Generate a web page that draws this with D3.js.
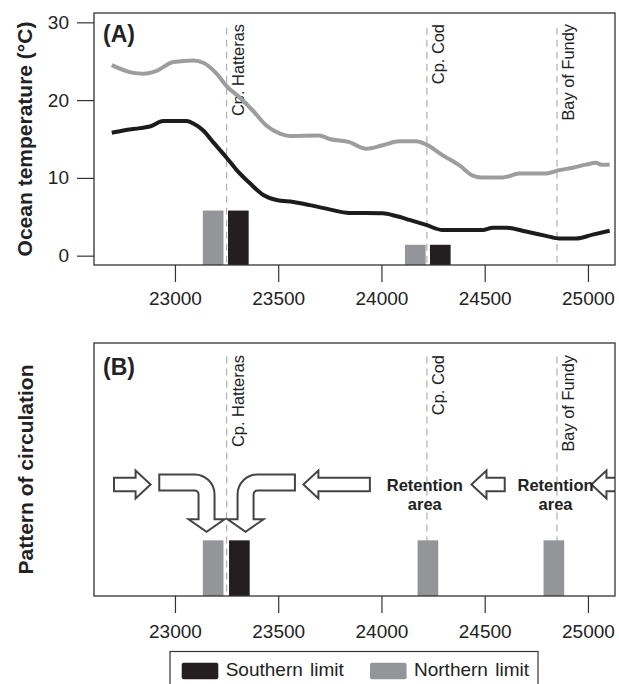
<!DOCTYPE html>
<html>
<head>
<meta charset="utf-8">
<script src="https://cdn.jsdelivr.net/npm/d3@7"></script>
<style>
  body { margin: 0; background: #fff; }
  text { font-family: "Liberation Sans", Arial, sans-serif; fill: #222; }
</style>
</head>
<body>
<svg id="chart" width="619" height="684"></svg>
<script>
// distance along the coast (km) and temperatures
const warmDist = [22694, 22798, 22847, 22911, 22992, 23089, 23137, 23202, 23250, 23315, 23379, 23444, 23508, 23557, 23700,
                  23748, 23845, 23926, 24006, 24087, 24168, 24216, 24297, 24378, 24442, 24483, 24587, 24668, 24797, 24861,
                  24926, 24990, 25039, 25065, 25105];
const warmTemp = [24.5, 23.5, 23.4, 23.75, 24.9, 25.1, 24.8, 23.4, 21.8, 20.3, 18.6, 16.7, 15.7, 15.4, 15.45,
                  15.0, 14.6, 13.75, 14.2, 14.7, 14.7, 14.3, 12.9, 11.6, 10.3, 10.05, 10.05, 10.55, 10.55, 11.0,
                  11.3, 11.7, 11.95, 11.7, 11.7];
const coldDist = [22694, 22750, 22831, 22879, 22943, 23056, 23089, 23137, 23185, 23250, 23299, 23363, 23428, 23492, 23573,
                  23653, 23748, 23845, 24006, 24071, 24136, 24216, 24297, 24490, 24539, 24603, 24700, 24797, 24861, 24942,
                  25023, 25105];
const coldTemp = [15.8, 16.1, 16.4, 16.6, 17.3, 17.3, 17.0, 16.1, 14.6, 12.6, 11.0, 9.3, 7.8, 7.15, 6.9,
                  6.5, 5.95, 5.5, 5.45, 5.1, 4.6, 3.95, 3.3, 3.3, 3.6, 3.6, 3.1, 2.55, 2.2, 2.2,
                  2.7, 3.2];

// range limits (bars)
const northA = [23185, 24164], northAHeight = [5.8, 1.4];
const southA = [23307, 24285], southAHeight = [5.8, 1.4];
const northB = [23185, 24225, 24835];
const southB = [23312];
const barHeightB = 2.2;
const barWidth = 100;

// landmarks
const landmarks = ["Cp. Hatteras", "Cp. Cod", "Bay of Fundy"];
const landmarkDist = [23250, 24220, 24850];

// circulation arrows in panel B (km along coast, level on panel scale)
const straightFrom = [22705, 23944, 24597, 25200];
const straightTo   = [22882, 23622, 24436, 25017];
const curvedFrom   = [22924, 23581];
const curvedTo     = [23153, 23342];
const retentionDist = [24210, 24843];

const xTicks = [23000, 23500, 24000, 24500, 25000];
const yTicks = [0, 10, 20, 30];

const svg = d3.select("#chart");
const left = 94, right = 615;
const aTop = 13, aBottom = 265;
const bTop = 343, bBottom = 596;

const x = d3.scaleLinear().domain([22608, 25131]).range([left, right]);
const yA = d3.scaleLinear().domain([-1.2, 31.2]).range([aBottom, aTop]);
const yB = d3.scaleLinear().domain([0, 10]).range([bBottom, bTop]);

const GREY_BAR = "#939598", BLACK_BAR = "#231f20";

function xAxis(g, bottom, pad) {
  g.attr("transform", `translate(0,${bottom})`)
    .call(d3.axisBottom(x).tickValues(xTicks).tickSize(17).tickPadding(pad).tickFormat(d3.format("d")))
    .call(a => a.select(".domain").remove())
    .call(a => a.selectAll("line").attr("stroke", "#333").attr("stroke-width", 1.2))
    .call(a => a.selectAll("text").attr("font-size", 19).attr("fill", "#222")
      .attr("font-family", '"Liberation Sans", Arial, sans-serif'));
}

function landmarkLines(g, y0, y1, textTop) {
  g.selectAll("line").data(landmarkDist).join("line")
    .attr("x1", d => x(d)).attr("x2", d => x(d))
    .attr("y1", y0).attr("y2", y1)
    .attr("stroke", "#b0b0b0").attr("stroke-width", 1.2).attr("stroke-dasharray", "7,5");
  g.selectAll("text").data(landmarkDist).join("text")
    .attr("transform", d => `translate(${x(d) + 17},${textTop}) rotate(-90)`)
    .attr("text-anchor", "end").attr("font-size", 16.4)
    .text((d, i) => landmarks[i]);
}

function bars(g, xs, hs, y, color) {
  g.selectAll(null).data(xs).join("rect")
    .attr("x", d => x(d - barWidth / 2))
    .attr("width", d => x(d + barWidth / 2) - x(d - barWidth / 2))
    .attr("y", (d, i) => y(hs[i]))
    .attr("height", (d, i) => y.range()[0] - y(hs[i]))
    .attr("fill", color);
}

// ---------- panel A ----------
const pA = svg.append("g");
landmarkLines(pA.append("g"), yA(29.3), aBottom, 24);
bars(pA.append("g"), northA, northAHeight, yA, GREY_BAR);
bars(pA.append("g"), southA, southAHeight, yA, BLACK_BAR);

const line = d3.line().curve(d3.curveMonotoneX);
pA.append("path")
  .attr("d", line(warmDist.map((d, i) => [x(d), yA(warmTemp[i])])))
  .attr("fill", "none").attr("stroke", "#9d9d9d").attr("stroke-width", 4);
pA.append("path")
  .attr("d", line(coldDist.map((d, i) => [x(d), yA(coldTemp[i])])))
  .attr("fill", "none").attr("stroke", "#1c1c1c").attr("stroke-width", 4);

pA.append("g").attr("transform", `translate(${left},0)`)
  .call(d3.axisLeft(yA).tickValues(yTicks).tickSize(17).tickPadding(8))
  .call(a => a.select(".domain").remove())
  .call(a => a.selectAll("line").attr("stroke", "#333").attr("stroke-width", 1.2))
  .call(a => a.selectAll("text").attr("font-size", 19).attr("fill", "#222")
    .attr("font-family", '"Liberation Sans", Arial, sans-serif'));
pA.append("g").call(xAxis, aBottom, 10);

pA.append("rect").attr("x", left).attr("y", aTop).attr("width", right - left).attr("height", aBottom - aTop)
  .attr("fill", "none").attr("stroke", "#333").attr("stroke-width", 1.3);
pA.append("text").attr("x", 103).attr("y", 42).attr("font-size", 23).attr("font-weight", "bold").text("(A)");
pA.append("text").attr("transform", `translate(32,${(aTop + aBottom) / 2}) rotate(-90)`)
  .attr("text-anchor", "middle").attr("font-size", 21).attr("font-weight", "bold")
  .text("Ocean temperature (°C)");

// ---------- panel B ----------
const pB = svg.append("g");
svg.append("defs").append("clipPath").attr("id", "clipB")
  .append("rect").attr("x", left).attr("y", bTop).attr("width", right - left).attr("height", bBottom - bTop);

landmarkLines(pB.append("g"), yB(9.47), bBottom, 355);
bars(pB.append("g"), northB, northB.map(() => barHeightB), yB, GREY_BAR);
bars(pB.append("g"), southB, southB.map(() => barHeightB), yB, BLACK_BAR);

const arrowLevel = 4.41, curveLevel = 4.49, tipLevel = 2.54;
const arrows = pB.append("g").attr("clip-path", "url(#clipB)")
  .attr("fill", "#fff").attr("stroke", "#444").attr("stroke-width", 2).attr("stroke-linejoin", "miter");

arrows.selectAll(null).data(straightFrom).join("path")
  .attr("d", (d, i) => {
    const x0 = x(d), xt = x(straightTo[i]), s = Math.sign(xt - x0);
    const yc = yB(arrowLevel), t = 13.5, hh = 14, hl = 15;
    const hb = xt - s * hl;
    return `M${x0},${yc - t / 2}H${hb}V${yc - hh}L${xt},${yc}L${hb},${yc + hh}V${yc + t / 2}H${x0}Z`;
  });

arrows.selectAll(null).data(curvedFrom).join("path")
  .attr("d", (d, i) => {
    const xs = x(d), xt = x(curvedTo[i]), s = Math.sign(xt - xs);
    const yc = yB(curveLevel), t = 16, hw = 18, hl = 12.5, Ro = 20, Ri = 4;
    const ytip = yB(tipLevel), yh = ytip - hl;
    const yt = yc - t / 2, yb = yc + t / 2;
    const outer = xt + s * t / 2, inner = xt - s * t / 2;
    return `M${xs},${yt}H${outer - s * Ro}A${Ro},${Ro} 0 0 ${s > 0 ? 1 : 0} ${outer},${yt + Ro}` +
      `V${yh}H${xt + s * hw}L${xt},${ytip}L${xt - s * hw},${yh}H${inner}` +
      `V${yb + Ri}A${Ri},${Ri} 0 0 ${s > 0 ? 0 : 1} ${inner - s * Ri},${yb}H${xs}Z`;
  });

const ret = pB.append("g").attr("text-anchor", "middle").attr("font-size", 16.5).attr("font-weight", "bold");
ret.selectAll(null).data(retentionDist).join("text")
  .attr("x", d => x(d)).attr("y", 491).text("Retention");
ret.selectAll(null).data(retentionDist).join("text")
  .attr("x", d => x(d)).attr("y", 510).text("area");

pB.append("g").call(xAxis, bBottom, 12);
pB.append("rect").attr("x", left).attr("y", bTop).attr("width", right - left).attr("height", bBottom - bTop)
  .attr("fill", "none").attr("stroke", "#333").attr("stroke-width", 1.3);
pB.append("text").attr("x", 103).attr("y", 375).attr("font-size", 23).attr("font-weight", "bold").text("(B)");
pB.append("text").attr("transform", `translate(33,${(bTop + bBottom) / 2}) rotate(-90)`)
  .attr("text-anchor", "middle").attr("font-size", 21).attr("font-weight", "bold")
  .text("Pattern of circulation");

// ---------- legend ----------
const legendLabels = ["Southern limit", "Northern limit"];
const legendColors = [BLACK_BAR, GREY_BAR];
const legendX = [181.7, 370];
const lg = svg.append("g");
lg.append("rect").attr("x", 170).attr("y", 651.5).attr("width", 368).attr("height", 60)
  .attr("fill", "#fff").attr("stroke", "#333").attr("stroke-width", 1.2);
lg.selectAll(null).data(legendLabels).join("rect")
  .attr("x", (d, i) => legendX[i]).attr("y", 662.7).attr("width", 36.6).attr("height", 16.6).attr("rx", 2)
  .attr("fill", (d, i) => legendColors[i]);
lg.selectAll(null).data(legendLabels).join("text")
  .attr("x", (d, i) => legendX[i] + 44).attr("y", 676).attr("font-size", 19).attr("word-spacing", 2)
  .text(d => d);
</script>
</body>
</html>
